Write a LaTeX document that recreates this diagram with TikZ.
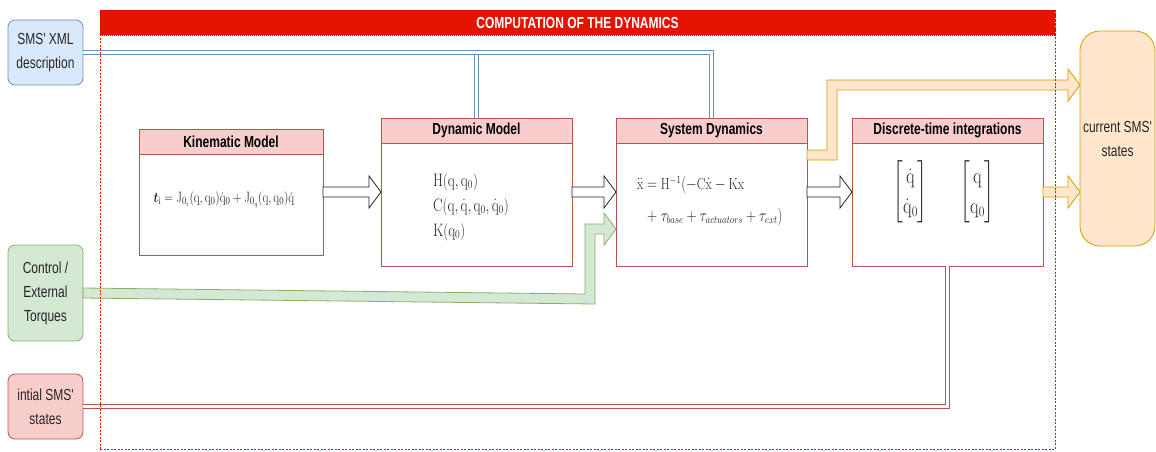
\documentclass[tikz,border=0pt]{standalone}
\usepackage{amsmath}
\usepackage{graphicx}
\usepackage{fontspec}
\usepackage{bm}
\newfontfamily\drawfont[FakeStretch=0.75,Ligatures=TeXOff]{Liberation Sans}
\usetikzlibrary{positioning,calc}

\definecolor{blueFill}{HTML}{DAE8FC}\definecolor{blueLine}{HTML}{6C8EBF}
\definecolor{greenFill}{HTML}{D5E8D4}\definecolor{greenLine}{HTML}{82B366}
\definecolor{redFill}{HTML}{F8CECC}\definecolor{redLine}{HTML}{B85450}
\definecolor{orangeFill}{HTML}{FFE6CC}\definecolor{orangeLine}{HTML}{D79B00}
\definecolor{blackFill}{HTML}{FFFFFF}\definecolor{blackLine}{HTML}{222222}
\definecolor{banner}{HTML}{E51400}

\newcommand\mq{\mathrm{q}}
\newcommand\narrow[1]{\scalebox{0.8}[1]{#1}}
\newcommand\flexto[3]{% #1 colour, #2 start, #3 tip (same height)
  \draw[flexarrow=#1] ($(#2)+(0,-5)$) -- ($(#3)+(-12,-5)$) -- ++(0,-11) -- (#3)
    -- ++(-12,16) -- ++(0,-11) -- ($(#2)+(0,5)$) -- cycle;}

\begin{document}
\begin{tikzpicture}[x=1pt, y=-1pt, line width=0.8pt,
  every node/.style={inner sep=0pt, outer sep=0pt, text=black!85, font=\drawfont\fontsize{16}{24}\selectfont},
  side/.style={draw=#1Line, fill=#1Fill, rounded corners=7pt, align=center, minimum width=75pt},
  lane/.style={draw=redLine, fill=white, minimum width=191pt, minimum height=148pt},
  lanehead/.style={draw=redLine, fill=redFill, anchor=north, minimum height=25pt, text=black,
    font=\drawfont\bfseries\fontsize{16}{20}\selectfont},
  formula/.style={align=left, font=\fontsize{#1}{25}\selectfont},
  linkline/.style={draw=#1, double=white, double distance=3.2pt, line width=0.8pt},
  flexarrow/.style={draw=#1Line, fill=#1Fill, line join=miter}]
  \useasboundingbox (0,0) rectangle (1156,451);

  % inputs and output
  \node[side=blue, minimum height=65pt] (xml) at (45.5,52.5) {SMS' XML\\description};
  \node[side=green, minimum height=96pt] (ctrl) at (45.5,293) {Control /\\External\\Torques};
  \node[side=red, minimum height=65pt] (init) at (45.5,406.5) {intial SMS'\\states};
  \node[side=orange, minimum height=215pt, rounded corners=20pt] (cur) at (1117.5,138.5) {current SMS'\\states};

  % the four stages
  \node[lane, minimum width=184pt, minimum height=126pt] (kin) at (231,192) {};
  \node[lane, right=58pt of kin] (dyn) {};
  \node[lane, right=44pt of dyn] (sys) {};
  \node[lane, right=45pt of sys] (dis) {};
  \node[lanehead, minimum width=184pt] (kinH) at (kin.north) {Kinematic Model};
  \node[lanehead, minimum width=191pt] (dynH) at (dyn.north) {Dynamic Model};
  \node[lanehead, minimum width=191pt] (sysH) at (sys.north) {System Dynamics};
  \node[lanehead, minimum width=191pt] (disH) at (dis.north) {Discrete-time integrations};

  \node[formula=15] (kinEq) at ($(kin.center)+(-7,8)$)
    {\narrow{$\bm{t}_{\mathrm{i}} = \mathrm{J}_{0_i}(\mq,\mq_0)\dot{\mq}_0 + \mathrm{J}_{0_q}(\mq,\mq_0)\dot{\mq}$}};
  \node[formula=18, anchor=west] (dynEq) at ($(dyn.west)+(52,15)$)
    {\narrow{$\mathrm{H}(\mq,\mq_0)$}\\ \narrow{$\mathrm{C}(\mq,\dot{\mq},\mq_0,\dot{\mq}_0)$}\\ \narrow{$\mathrm{K}(\mq_0)$}};
  \node[formula=16, anchor=west] (sysEq) at ($(sys.west)+(21,-7)$)
    {\narrow{$\ddot{\mathrm{x}} = \mathrm{H}^{-1}(-\mathrm{C}\dot{\mathrm{x}} - \mathrm{K}\mathrm{x}$}};
  \node[formula=16, anchor=west] (sysEq2) at ($(sys.west)+(31,25)$)
    {\narrow{$+\;\tau_{base}+\tau_{actuators}+\tau_{ext})$}};
  \node[font=\fontsize{22}{30}\selectfont] (disEq1) at ($(dis.center)+(-37,0)$)
    {\narrow{$\begin{bmatrix}\dot{\mq}\\ \dot{\mq}_0\end{bmatrix}$}};
  \node[font=\fontsize{22}{30}\selectfont] (disEq2) at ($(dis.center)+(30,0)$)
    {\narrow{$\begin{bmatrix}\mq\\ \mq_0\end{bmatrix}$}};

  % XML description feeds the first three stages
  \coordinate (kinTap) at ($(kinH.north)+(-9,0)$);
  \draw[linkline=blueLine] (kinTap) -- (kinTap |- xml.east);
  \draw[linkline=blueLine] (dynH.north) -- (dynH.north |- xml.east);
  \draw[linkline=blueLine] (xml.east) -| (sysH.north);
  \draw[linkline=redLine] (init.east) -| (dis.south);

  \flexto{black}{kin.east}{dyn.west}
  \flexto{black}{dyn.east}{sys.west}
  \flexto{black}{sys.east}{dis.west}
  \coordinate (curIn) at (dis.east -| cur.west);
  \flexto{orange}{dis.east}{curIn}

  % torques into the system dynamics
  \coordinate (g1) at (ctrl.east);
  \coordinate (g2) at ($(sys.west)+(0,37)$);
  \draw[flexarrow=green] ($(g1)+(0,-5)$) -- ($(g2)+(-31,65)$) -- ($(g2)+(-31,-5)$) -- ($(g2)+(-12,-5)$)
    -- ++(0,-11) -- (g2) -- ++(-12,16) -- ++(0,-11) -- ($(g2)+(-21,5)$) -- ($(g2)+(-21,75)$) -- ($(g1)+(0,5)$) -- cycle;

  % states out, straight from the system dynamics
  \coordinate (o1) at ($(sys.north east)+(0,37)$);
  \coordinate (o2) at ($(cur.north west)+(0,54)$);
  \draw[flexarrow=orange] ($(o1)+(0,-5)$) -- ++(20,0) |- ($(o2)+(-12,-5)$) -- ++(0,-11) -- (o2)
    -- ++(-12,16) -- ++(0,-11) -| ($(o1)+(30,5)$) -- ($(o1)+(0,5)$) -- cycle;

  % frame on top
  \node[draw=banner, dash pattern=on 2pt off 1.5pt, minimum width=955pt, minimum height=439pt] (comp) at (577.5,229.5) {};
  \node[fill=banner, draw=banner!80!black, dash pattern=on 1pt off 1pt, anchor=north, minimum width=955pt,
    minimum height=25pt, text=white, font=\drawfont\bfseries\fontsize{16}{20}\selectfont] (compT) at (comp.north)
    {COMPUTATION OF THE DYNAMICS};
\end{tikzpicture}
\end{document}
